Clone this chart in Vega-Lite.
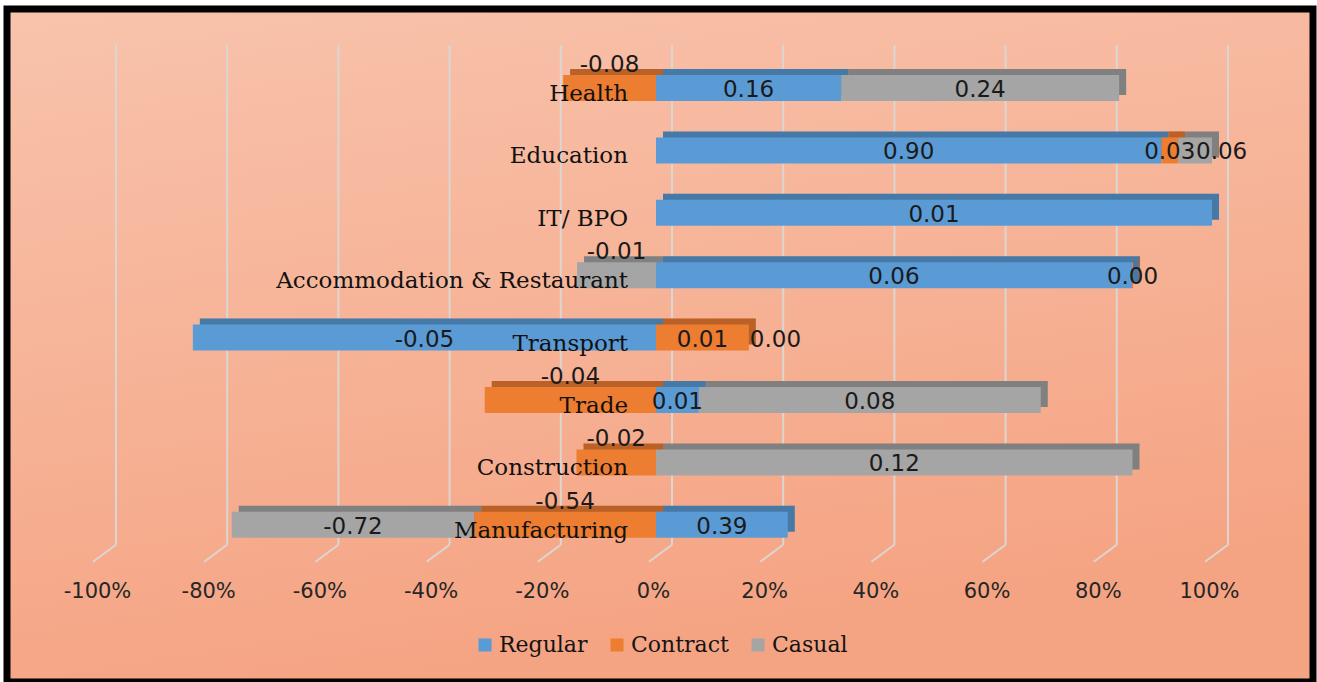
{
  "$schema": "https://vega.github.io/schema/vega-lite/v6.json",
  "width": 1306,
  "height": 673,
  "autosize": "none",
  "padding": {"left": 7, "top": 9, "right": 4, "bottom": 0},
  "background": "white",
  "config": {
    "locale": {"number": {"decimal": ".", "thousands": ",", "grouping": [3], "currency": ["$", ""], "minus": "-"}},
    "view": {
      "stroke": "black",
      "strokeWidth": 7,
      "fill": {"gradient": "linear", "x1": 0, "y1": 0, "x2": 0.3, "y2": 1, "stops": [{"offset": 0, "color": "#F8C3AC"}, {"offset": 1, "color": "#F5A483"}]}
    },
    "axisX": {"orient": "bottom", "offset": -102, "tickCount": 10, "format": ".0%", "domain": false, "ticks": false, "tickSize": 0, "grid": false, "labelPadding": 0, "labelOffset": -3, "labelFont": "DejaVu Sans", "labelFontSize": 21, "labelColor": "#262626", "title": null, "labelFlush": false, "labelOverlap": false}
  },
  "datasets": {
    "shares": [
      {"sector": "Health", "series": "Regular", "value": 0.16, "share": 0.333},
      {"sector": "Health", "series": "Contract", "value": -0.08, "share": -0.167},
      {"sector": "Health", "series": "Casual", "value": 0.24, "share": 0.5},
      {"sector": "Education", "series": "Regular", "value": 0.90, "share": 0.909},
      {"sector": "Education", "series": "Contract", "value": 0.03, "share": 0.030},
      {"sector": "Education", "series": "Casual", "value": 0.06, "share": 0.061},
      {"sector": "IT/ BPO", "series": "Regular", "value": 0.01, "share": 1.0},
      {"sector": "Accommodation & Restaurant", "series": "Regular", "value": 0.06, "share": 0.856},
      {"sector": "Accommodation & Restaurant", "series": "Contract", "value": 0.0, "share": 0.002},
      {"sector": "Accommodation & Restaurant", "series": "Casual", "value": -0.01, "share": -0.142},
      {"sector": "Transport", "series": "Regular", "value": -0.05, "share": -0.833},
      {"sector": "Transport", "series": "Contract", "value": 0.01, "share": 0.167},
      {"sector": "Transport", "series": "Casual", "value": 0.0, "share": 0.0},
      {"sector": "Trade", "series": "Regular", "value": 0.01, "share": 0.077},
      {"sector": "Trade", "series": "Contract", "value": -0.04, "share": -0.308},
      {"sector": "Trade", "series": "Casual", "value": 0.08, "share": 0.615},
      {"sector": "Construction", "series": "Contract", "value": -0.02, "share": -0.143},
      {"sector": "Construction", "series": "Casual", "value": 0.12, "share": 0.857},
      {"sector": "Manufacturing", "series": "Regular", "value": 0.39, "share": 0.237},
      {"sector": "Manufacturing", "series": "Contract", "value": -0.54, "share": -0.327},
      {"sector": "Manufacturing", "series": "Casual", "value": -0.72, "share": -0.436}
    ],
    "ticks": [
      {"tick": -1}, {"tick": -0.8}, {"tick": -0.6}, {"tick": -0.4}, {"tick": -0.2}, {"tick": 0},
      {"tick": 0.2}, {"tick": 0.4}, {"tick": 0.6}, {"tick": 0.8}, {"tick": 1}
    ],
    "sectors": [
      {"sector": "Health"}, {"sector": "Education"}, {"sector": "IT/ BPO"},
      {"sector": "Accommodation & Restaurant"}, {"sector": "Transport"}, {"sector": "Trade"},
      {"sector": "Construction"}, {"sector": "Manufacturing"}
    ]
  },
  "layer": [
    {
      "data": {"name": "ticks"},
      "mark": {"type": "rule", "color": "#DCD6D2", "strokeWidth": 2, "xOffset": 16, "yOffset": -43, "y2Offset": 20},
      "encoding": {
        "x": {"field": "tick", "type": "quantitative", "scale": {"domain": [-1, 1], "range": [93, 1205], "nice": false, "zero": false}},
        "y": {"datum": "Health", "type": "nominal", "scale": {"domain": ["Health", "Education", "IT/ BPO", "Accommodation & Restaurant", "Transport", "Trade", "Construction", "Manufacturing"], "range": [47.8, 547], "paddingInner": 0.5833, "paddingOuter": 0.2917}, "axis": null},
        "y2": {"datum": "Manufacturing"}
      }
    },
    {
      "data": {"name": "ticks"},
      "mark": {"type": "rule", "color": "#DCD6D2", "strokeWidth": 2, "xOffset": 16, "x2Offset": -7, "yOffset": 20, "y2Offset": 37},
      "encoding": {
        "x": {"field": "tick", "type": "quantitative"},
        "x2": {"field": "tick"},
        "y": {"datum": "Manufacturing", "type": "nominal", "axis": null},
        "y2": {"datum": "Manufacturing"}
      }
    },
    {
      "data": {"name": "shares"},
      "transform": [
        {"stack": "share", "groupby": ["sector"], "sort": [{"field": "series", "order": "descending"}], "as": ["s0", "s1"], "offset": "zero"}
      ],
      "mark": {"type": "bar", "xOffset": 7, "x2Offset": 7, "yOffset": -6},
      "encoding": {
        "x": {"field": "s0", "type": "quantitative"},
        "x2": {"field": "s1"},
        "y": {"field": "sector", "type": "nominal", "axis": null},
        "color": {"field": "series", "type": "nominal", "scale": {"domain": ["Regular", "Contract", "Casual"], "range": ["#5B9BD5", "#ED7D31", "#A5A5A5"]},
          "legend": {"orient": "none", "legendX": 467, "legendY": 625, "direction": "horizontal", "title": null, "symbolType": "square", "symbolSize": 170, "symbolStrokeWidth": 0, "labelFont": "DejaVu Serif", "labelFontSize": 22, "labelColor": "#141414", "labelOffset": 3, "columnPadding": 18, "padding": 0}}
      }
    },
    {
      "data": {"name": "shares"},
      "transform": [
        {"stack": "share", "groupby": ["sector"], "sort": [{"field": "series", "order": "descending"}], "as": ["s0", "s1"], "offset": "zero"}
      ],
      "mark": {"type": "bar", "xOffset": 7, "x2Offset": 7, "yOffset": -6, "color": "black", "opacity": 0.22},
      "encoding": {
        "x": {"field": "s0", "type": "quantitative"},
        "x2": {"field": "s1"},
        "y": {"field": "sector", "type": "nominal", "axis": null}
      }
    },
    {
      "data": {"name": "shares"},
      "transform": [
        {"stack": "share", "groupby": ["sector"], "sort": [{"field": "series", "order": "descending"}], "as": ["s0", "s1"], "offset": "zero"}
      ],
      "mark": {"type": "bar"},
      "encoding": {
        "x": {"field": "s0", "type": "quantitative"},
        "x2": {"field": "s1"},
        "y": {"field": "sector", "type": "nominal", "axis": null},
        "color": {"field": "series", "type": "nominal", "scale": {"domain": ["Regular", "Contract", "Casual"], "range": ["#5B9BD5", "#ED7D31", "#A5A5A5"]},
          "legend": {"orient": "none", "legendX": 467, "legendY": 625, "direction": "horizontal", "title": null, "symbolType": "square", "symbolSize": 170, "symbolStrokeWidth": 0, "labelFont": "DejaVu Serif", "labelFontSize": 22, "labelColor": "#141414", "labelOffset": 3, "columnPadding": 18, "padding": 0}}
      }
    },
    {
      "data": {"name": "sectors"},
      "mark": {"type": "text", "align": "right", "baseline": "middle", "dx": -28, "dy": 6, "font": "DejaVu Serif", "fontSize": 23, "color": "#111111"},
      "encoding": {
        "x": {"datum": 0, "type": "quantitative"},
        "y": {"field": "sector", "type": "nominal", "axis": null},
        "text": {"field": "sector"}
      }
    },
    {
      "data": {"name": "shares"},
      "transform": [
        {"stack": "share", "groupby": ["sector"], "sort": [{"field": "series", "order": "descending"}], "as": ["s0", "s1"], "offset": "zero"},
        {"calculate": "(datum.s0 + datum.s1) / 2", "as": "mid"},
        {"filter": "!(datum.mid < 0 && datum.mid > -0.3) && !(datum.series == 'Casual' && datum.share >= 0 && datum.share < 0.1)"}
      ],
      "mark": {"type": "text", "align": "center", "baseline": "middle", "dy": 2, "font": "DejaVu Sans", "fontSize": 23, "color": "#1a1a1a"},
      "encoding": {
        "x": {"field": "mid", "type": "quantitative"},
        "y": {"field": "sector", "type": "nominal", "axis": null},
        "text": {"field": "value", "type": "quantitative", "format": ".2f"}
      }
    },
    {
      "data": {"name": "shares"},
      "transform": [
        {"stack": "share", "groupby": ["sector"], "sort": [{"field": "series", "order": "descending"}], "as": ["s0", "s1"], "offset": "zero"},
        {"calculate": "(datum.s0 + datum.s1) / 2", "as": "mid"},
        {"filter": "datum.mid < 0 && datum.mid > -0.3"}
      ],
      "mark": {"type": "text", "align": "center", "baseline": "middle", "dy": -23, "font": "DejaVu Sans", "fontSize": 23, "color": "#1a1a1a"},
      "encoding": {
        "x": {"field": "mid", "type": "quantitative"},
        "y": {"field": "sector", "type": "nominal", "axis": null},
        "text": {"field": "value", "type": "quantitative", "format": ".2f"}
      }
    },
    {
      "data": {"name": "shares"},
      "transform": [
        {"stack": "share", "groupby": ["sector"], "sort": [{"field": "series", "order": "descending"}], "as": ["s0", "s1"], "offset": "zero"},
        {"calculate": "(datum.s0 + datum.s1) / 2", "as": "mid"},
        {"filter": "datum.series == 'Casual' && datum.share >= 0 && datum.share < 0.1"}
      ],
      "mark": {"type": "text", "align": "left", "baseline": "middle", "dx": 1, "dy": 2, "font": "DejaVu Sans", "fontSize": 23, "color": "#1a1a1a"},
      "encoding": {
        "x": {"field": "mid", "type": "quantitative"},
        "y": {"field": "sector", "type": "nominal", "axis": null},
        "text": {"field": "value", "type": "quantitative", "format": ".2f"}
      }
    }
  ]
}
